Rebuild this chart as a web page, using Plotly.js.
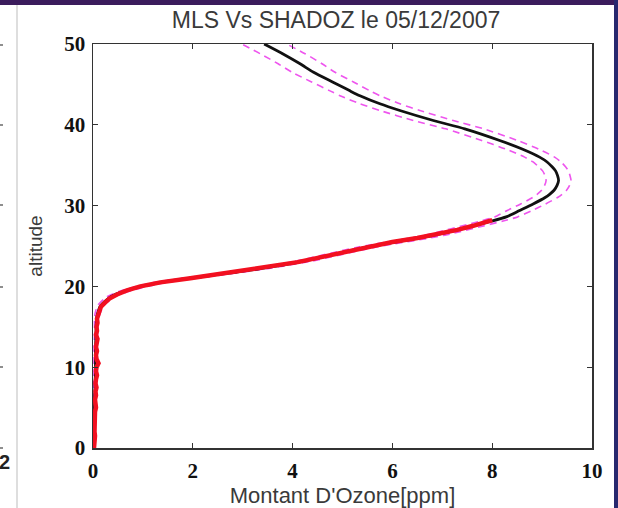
<!DOCTYPE html>
<html>
<head>
<meta charset="utf-8">
<script src="https://cdn.plot.ly/plotly-3.0.1.min.js"></script>
<style>
html,body{margin:0;padding:0;background:#ffffff;}
#chart{width:618px;height:508px;}
</style>
</head>
<body>
<div id="chart"></div>
<script>
// MLS profile (altitude km, ozone ppm) and its uncertainty
const mlsAlt = [0, 5, 10, 12, 14, 16, 16.6, 17.6, 18.7, 19.5, 20.5, 21.35, 22.2, 23.1, 24.85, 26.3, 28.1, 28.6, 29.4, 30.2, 31.0, 31.4, 31.9, 32.5, 33.1, 33.7, 34.3, 34.8, 35.4, 36.0, 37.0, 38.06, 39.5, 40.53, 41.77, 42.6, 43.6, 44.2, 45.3, 46.5, 47.55, 48.8, 50];
const mlsO3  = [0.02, 0.03, 0.05, 0.05, 0.06, 0.07, 0.09, 0.15, 0.35, 0.68, 1.35, 2.35, 3.35, 4.2, 5.48, 6.82, 8.0, 8.28, 8.55, 8.82, 9.06, 9.15, 9.24, 9.3, 9.33, 9.31, 9.27, 9.2, 9.1, 8.95, 8.6, 8.15, 7.45, 6.82, 6.15, 5.75, 5.35, 5.15, 4.8, 4.42, 4.15, 3.8, 3.43];
const mlsErr = [0.02, 0.02, 0.03, 0.03, 0.03, 0.04, 0.05, 0.06, 0.08, 0.1, 0.12, 0.14, 0.15, 0.16, 0.18, 0.2, 0.22, 0.23, 0.25, 0.25, 0.25, 0.25, 0.25, 0.25, 0.25, 0.25, 0.26, 0.27, 0.28, 0.3, 0.33, 0.36, 0.38, 0.4, 0.4, 0.4, 0.4, 0.4, 0.42, 0.43, 0.44, 0.45, 0.45];

// SHADOZ ozonesonde profile
const sondeAlt = [0, 0.5, 1, 1.5, 2, 2.5, 3, 3.5, 4, 4.5, 5, 5.5, 6, 6.5, 7, 7.5, 8, 8.5, 9, 9.5, 10, 10.5, 11, 11.5, 12, 12.5, 13, 13.5, 14, 14.5, 15, 15.5, 16, 16.5, 17, 17.5, 18, 18.5, 19, 19.5, 20, 20.5, 21, 21.5, 22, 22.5, 23, 23.5, 24, 24.5, 25, 25.5, 26, 26.5, 27, 27.5, 28, 28.2];
const sondeO3  = [0.02, 0.03, 0.02, 0.04, 0.03, 0.03, 0.04, 0.03, 0.05, 0.04, 0.06, 0.05, 0.04, 0.06, 0.05, 0.07, 0.05, 0.06, 0.08, 0.06, 0.07, 0.11, 0.07, 0.06, 0.08, 0.06, 0.07, 0.09, 0.06, 0.08, 0.07, 0.09, 0.08, 0.1, 0.12, 0.16, 0.24, 0.33, 0.48, 0.68, 0.95, 1.35, 1.95, 2.52, 3.1, 3.62, 4.1, 4.48, 4.85, 5.2, 5.6, 6.0, 6.5, 6.95, 7.3, 7.62, 7.95, 8.0];

const xTicks = [0, 2, 4, 6, 8, 10];
const yTicks = [0, 10, 20, 30, 40, 50];
const titleText = "MLS Vs SHADOZ le 05/12/2007";
const xTitle = "Montant D'Ozone[ppm]";
const yTitle = "altitude";

const mlsLow = mlsO3.map((v, i) => v - mlsErr[i]);
const mlsHigh = mlsO3.map((v, i) => v + mlsErr[i]);

const L = 93, R = 26, T = 44, B = 60, WIDTH = 618, HEIGHT = 508;
const PW = WIDTH - L - R, PH = HEIGHT - T - B;
const xp = px => (px - L) / PW;
const yp = py => (HEIGHT - B - py) / PH;

const traces = [
  {x: mlsLow, y: mlsAlt, mode: 'lines', line: {color: '#ee55ee', width: 1.6, dash: '7px,5px', shape: 'spline', smoothing: 0.6}, hoverinfo: 'skip', showlegend: false},
  {x: mlsHigh, y: mlsAlt, mode: 'lines', line: {color: '#ee55ee', width: 1.6, dash: '7px,5px', shape: 'spline', smoothing: 0.6}, hoverinfo: 'skip', showlegend: false},
  {x: mlsO3, y: mlsAlt, mode: 'lines', name: 'MLS', line: {color: '#111111', width: 2.8, shape: 'spline', smoothing: 0.6}, showlegend: false},
  {x: sondeO3, y: sondeAlt, mode: 'lines', name: 'SHADOZ', line: {color: '#f21020', width: 4.5}, showlegend: false}
];

const leftTickY = [45, 125, 205, 287, 367, 448];
const shapes = [
  {type: 'rect', xref: 'paper', yref: 'paper', x0: xp(0), x1: xp(WIDTH), y0: yp(5), y1: yp(0), fillcolor: '#3b1c5c', line: {width: 0}, layer: 'above'},
  {type: 'rect', xref: 'paper', yref: 'paper', x0: xp(614), x1: xp(WIDTH), y0: yp(HEIGHT), y1: yp(0), fillcolor: '#28286e', line: {width: 0}, layer: 'above'},
  {type: 'line', xref: 'paper', yref: 'paper', x0: xp(17), x1: xp(17), y0: yp(HEIGHT), y1: yp(5), line: {color: '#c8c8c8', width: 1.2}}
].concat(leftTickY.map(py => ({type: 'line', xref: 'paper', yref: 'paper', x0: xp(0), x1: xp(3), y0: yp(py), y1: yp(py), line: {color: '#444', width: 1.2}})));

const layout = {
  width: WIDTH, height: HEIGHT,
  margin: {l: L, r: R, t: T, b: B},
  paper_bgcolor: '#ffffff', plot_bgcolor: '#ffffff',
  title: {text: titleText, font: {family: 'Liberation Sans, Arial, sans-serif', size: 23, color: '#3a3a3a'},
          xref: 'container', yref: 'container', x: 336 / WIDTH, y: 1 - 20 / HEIGHT, xanchor: 'center', yanchor: 'middle'},
  xaxis: {
    range: [0, 10], tickvals: xTicks, ticktext: xTicks.map(String),
    ticks: 'inside', ticklen: 5, tickwidth: 1.3, tickcolor: '#333',
    showline: true, linecolor: '#333', linewidth: 1.5, mirror: 'ticks',
    showgrid: false, zeroline: false,
    tickfont: {family: 'Liberation Serif, Times New Roman, serif', size: 21, color: '#111', weight: 'bold'},
    ticklabelstandoff: 3,
    title: {text: xTitle, font: {family: 'Liberation Sans, Arial, sans-serif', size: 22, color: '#3a3a3a'}, standoff: 5}
  },
  yaxis: {
    range: [0, 50], tickvals: yTicks, ticktext: yTicks.map(String),
    ticks: 'inside', ticklen: 5, tickwidth: 1.3, tickcolor: '#333',
    showline: true, linecolor: '#333', linewidth: 1.5, mirror: 'ticks',
    showgrid: false, zeroline: false,
    tickfont: {family: 'Liberation Serif, Times New Roman, serif', size: 21, color: '#111', weight: 'bold'},
    ticklabelstandoff: 2,
    title: {text: yTitle, font: {family: 'Liberation Sans, Arial, sans-serif', size: 19, color: '#3a3a3a'}, standoff: 16}
  },
  shapes: shapes,
  annotations: [
    {xref: 'paper', yref: 'paper', x: xp(4), y: yp(462), text: '2', showarrow: false, xanchor: 'center', yanchor: 'middle',
     font: {family: 'Liberation Sans, Arial, sans-serif', size: 20, color: '#222', weight: 'bold'}}
  ],
  showlegend: false
};

Plotly.newPlot('chart', traces, layout, {displayModeBar: false, staticPlot: true});
</script>
</body>
</html>
